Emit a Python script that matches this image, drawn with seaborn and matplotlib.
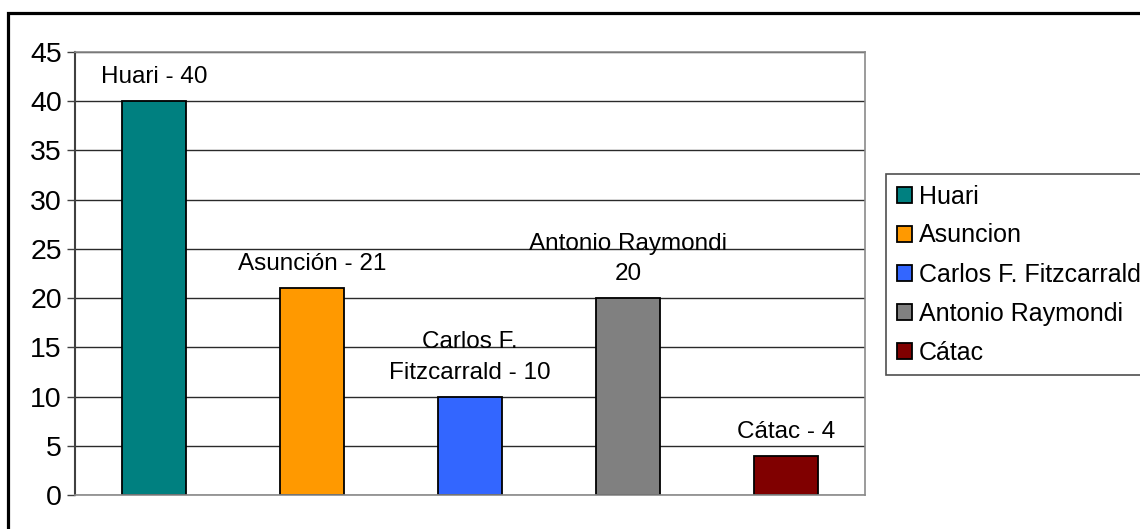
import matplotlib
matplotlib.use("Agg")
import matplotlib.pyplot as plt
from matplotlib.patches import Patch, Rectangle
import seaborn as sns

# === Data
categories = ["Huari", "Asuncion", "Carlos F. Fitzcarrald", "Antonio Raymondi", "Cátac"]
values = [40, 21, 10, 20, 4]
bar_labels = ["Huari - 40", "Asunción - 21", "Carlos F.\nFitzcarrald - 10", "Antonio Raymondi\n20", "Cátac - 4"]
colors = ["#008080", "#FF9900", "#3366FF", "#808080", "#800000"]
y_ticks = [0, 5, 10, 15, 20, 25, 30, 35, 40, 45]

sns.set_style("white")
plt.rcParams["font.family"] = ["Liberation Sans", "DejaVu Sans"]
plt.rcParams["text.color"] = "black"
plt.rcParams["ytick.labelcolor"] = "black"

fig = plt.figure(figsize=(11.4, 5.29), dpi=100)
ax = fig.add_axes([75 / 1140, 1 - 495 / 529, 790 / 1140, 443 / 529])

sns.barplot(
    x=categories,
    y=values,
    hue=categories,
    palette=colors,
    saturation=1,
    width=0.405,
    edgecolor="black",
    linewidth=1.3,
    legend=False,
    ax=ax,
)

# === Axis styling
ax.set_ylim(0, 45)
ax.set_yticks(y_ticks)
ax.set_xticks([])
ax.set_xlabel("")
ax.set_ylabel("")
ax.tick_params(axis="y", labelsize=20.5, labelcolor="black", length=6, width=1, color="#404040",
               pad=3.5, direction="out", left=True)
for lbl in ax.get_yticklabels():
    lbl.set_va("center_baseline")
ax.yaxis.grid(True, color="#2a2a2a", linewidth=1)
ax.set_axisbelow(True)
for side in ["top", "right", "bottom"]:
    ax.spines[side].set_color("#8a8a8a")
    ax.spines[side].set_linewidth(1.2)
ax.spines["left"].set_color("#404040")
ax.spines["left"].set_linewidth(1.5)

# === Value labels above bars
for i, (v, txt) in enumerate(zip(values, bar_labels)):
    ax.text(i, v + 1.3, txt, ha="center", va="bottom", fontsize=17.5, color="black",
            linespacing=1.5, multialignment="center")

# === Legend
handles = [Patch(facecolor=c, edgecolor="black", linewidth=1.3) for c in colors]
leg = fig.legend(
    handles, categories,
    loc="upper left",
    bbox_to_anchor=(886 / 1140, 1 - 174 / 529),
    fontsize=18,
    frameon=True,
    fancybox=False,
    handlelength=0.6,
    handleheight=0.6,
    handletextpad=0.3,
    labelspacing=0.6,
    borderpad=0.42,
    borderaxespad=0,
)
leg.get_frame().set_edgecolor("#222222")
leg.get_frame().set_linewidth(1.2)

# === Outer chart frame
fig.patches.append(Rectangle((8 / 1140, -0.1), 1.2, 1.1 - 13 / 529, transform=fig.transFigure,
                             fill=False, edgecolor="black", linewidth=2.3))

fig.savefig("out.png", dpi=100)
